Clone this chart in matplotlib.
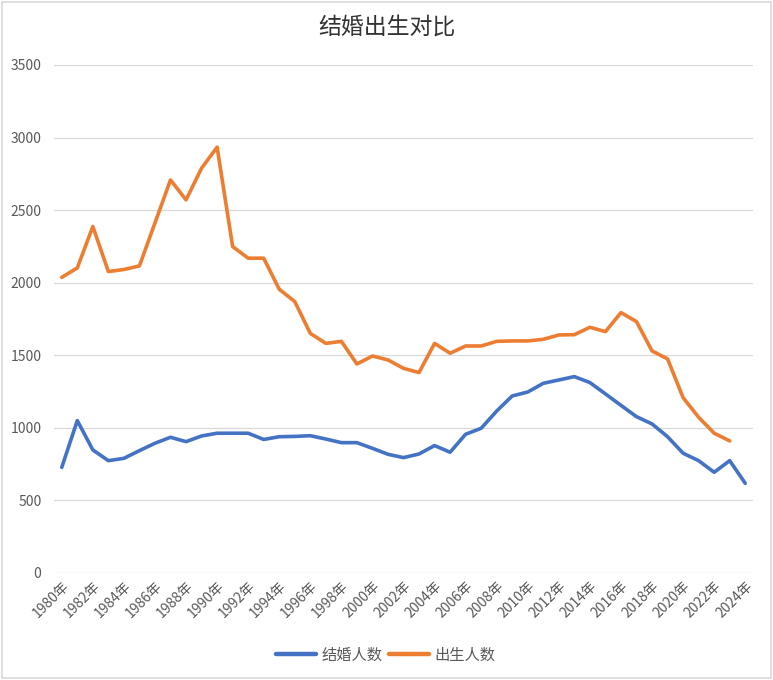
import matplotlib
matplotlib.use('Agg')
import matplotlib.pyplot as plt
from matplotlib.patches import Rectangle

plt.rcParams['font.family'] = ['Noto Sans CJK SC', 'DejaVu Sans']

# 年份 1980-2024
years = [f'{y}年' for y in range(1980, 2025)]

# 结婚人数（万对）1980-2024
marriages = [728, 1050, 848, 774, 790, 843, 894, 935, 905, 944,
             963, 963, 963, 920, 939, 941, 946, 923, 898, 898,
             859, 818, 795, 820, 878, 832, 956, 997, 1116, 1220,
             1247, 1307, 1330, 1353, 1312, 1234, 1155, 1077, 1027, 939,
             825, 774, 694, 774, 618]

# 出生人数（万人）1980-2023
births = [2037, 2102, 2387, 2077, 2091, 2116, 2412, 2708, 2571, 2789,
          2934, 2249, 2169, 2169, 1955, 1870, 1651, 1582, 1596, 1440,
          1495, 1468, 1410, 1381, 1582, 1514, 1564, 1564, 1596, 1599,
          1599, 1610, 1640, 1642, 1693, 1663, 1794, 1732, 1530, 1475,
          1208, 1073, 963, 910]

blue = '#4472C4'
orange = '#ED7D31'
text_color = '#595959'

fig = plt.figure(figsize=(7.73, 6.8), dpi=100)
ax = fig.add_axes([54 / 773, 1 - 573 / 680, 699 / 773, 508 / 680])

x = list(range(len(years)))
ax.plot(x, marriages, color=blue, lw=2.6, label='结婚人数', solid_capstyle='round')
ax.plot(x[:len(births)], births, color=orange, lw=2.6, label='出生人数', solid_capstyle='round')

ax.set_xlim(-0.5, len(years) - 0.5)
ax.set_ylim(0, 3500)
ax.set_yticks(range(0, 3501, 500))
ax.grid(axis='y', color='#D9D9D9', lw=0.9)
ax.set_axisbelow(True)
for s in ax.spines.values():
    s.set_visible(False)
ax.tick_params(axis='both', length=0, colors=text_color, labelsize=10)
ax.tick_params(axis='y', pad=9)

ax.set_xticks(x[::2])
ax.set_xticklabels(years[::2], rotation=45, ha='right', va='top',
                   rotation_mode='anchor', fontsize=10, color=text_color)
ax.tick_params(axis='x', pad=4)

fig.text(0.5, 1 - 27 / 680, '结婚出生对比', ha='center', va='center',
         fontsize=16.5, color='#333333', fontweight='medium')

leg = fig.legend(loc='center', bbox_to_anchor=(386 / 773, 1 - 655 / 680), ncol=2,
                 frameon=False, fontsize=11, handlelength=2.6, columnspacing=0.4,
                 handletextpad=0.4, labelcolor=text_color)
for h in leg.legend_handles:
    h.set_linewidth(3.2)

# 图表外框
fig.patches.append(Rectangle((0.003, 0.003), 0.994, 0.994, transform=fig.transFigure,
                             fill=False, edgecolor='#D9D9D9', lw=1.2))

fig.savefig('out.png', dpi=100)
